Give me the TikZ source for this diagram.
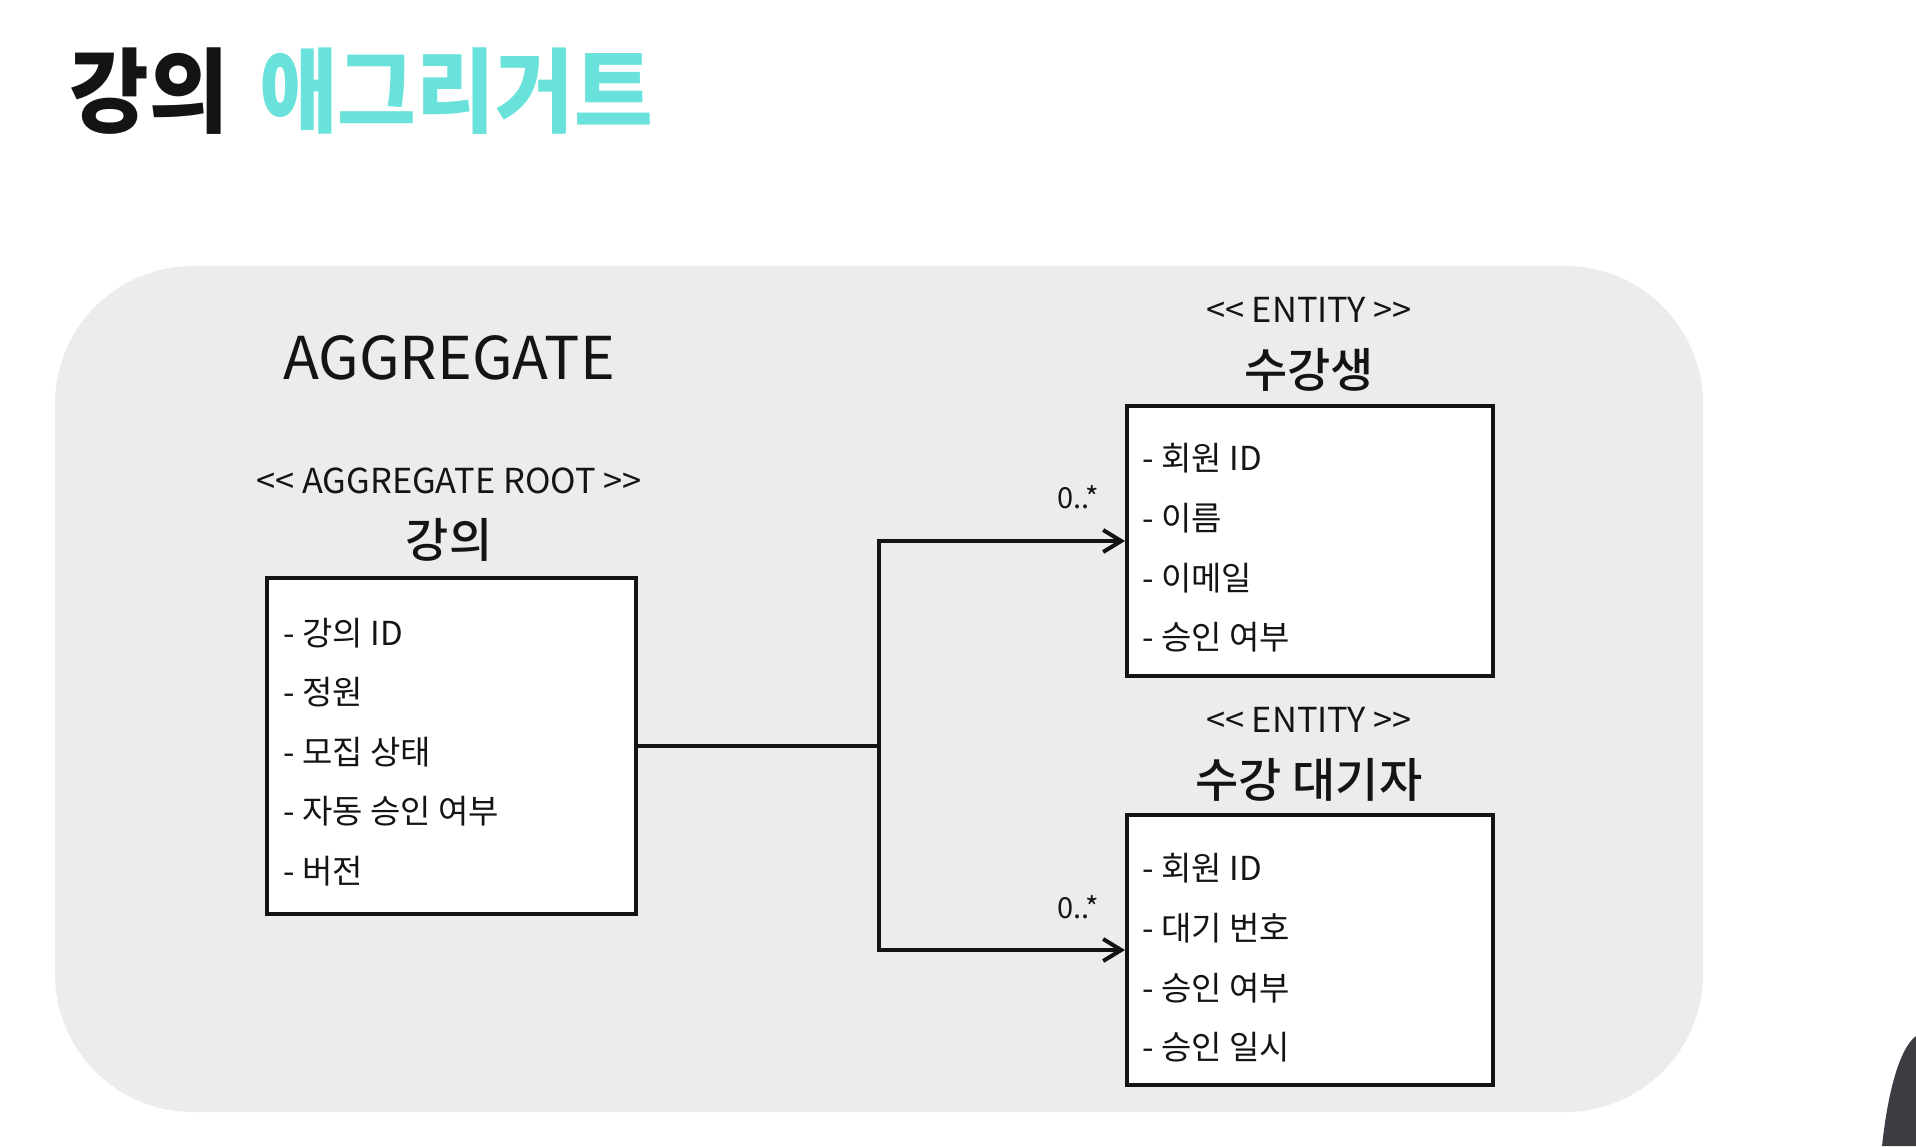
\documentclass[tikz,border=0pt]{standalone}
\usepackage{fontspec}
\usetikzlibrary{arrows.meta}
\newfontfamily\krfont{Noto Sans CJK KR}
\newfontfamily\krmed{Noto Sans CJK KR}[UprightFont=* Medium]
\newfontfamily\krblack{Noto Sans CJK KR}[UprightFont=* Black]
\definecolor{bgpanel}{HTML}{ECEBEE}
\definecolor{ink}{HTML}{141414}
\definecolor{teal}{HTML}{68E2DA}
\definecolor{person}{HTML}{3C3C42}
\tikzset{
  titletxt/.style={inner sep=0, font=\krblack\fontsize{46}{50}\selectfont},
  boxed/.style={draw=ink, line width=2pt, fill=white, inner sep=0, minimum width=#1},
  item/.style={anchor=base west, inner sep=0, text=ink, font=\krfont\fontsize{16.5}{20}\selectfont},
  stereo/.style={inner sep=0, text=ink, font=\krfont\fontsize{17.2}{20}\selectfont},
  heading/.style={inner sep=0, text=ink, font=\krmed\fontsize{23.5}{28}\selectfont},
  mult/.style={inner sep=0, text=ink, font=\krfont\fontsize{14.5}{17}\selectfont},
  conn/.style={draw=ink, line width=2pt},
  arr/.style={conn, -{Straight Barb[length=9pt,width=11pt]}}
}
\begin{document}
\begin{tikzpicture}[x=0.5pt,y=-0.5pt]
\useasboundingbox (0,0) rectangle (1916,1146);
\fill[white] (0,0) rectangle (1916,1146);
% title
\node[titletxt, text=ink] (t1) at (149,91.5) {\scalebox{0.94}[1]{강의}};
\node[titletxt, text=teal] (t2) at (456,91.5) {\scalebox{0.93}[1]{애그리거트}};
% panel
\fill[bgpanel, rounded corners=69pt] (55,266) rectangle (1703,1112);
% aggregate label
\node[inner sep=0, text=ink, font=\krfont\fontsize{29.5}{34}\selectfont] (agg) at (449,358) {AGGREGATE};
% root
\node[stereo] (rs) at (449,481) {<< AGGREGATE ROOT >>};
\node[heading] (rh) at (449,540) {강의};
\node[boxed=184.5pt, minimum height=168.25pt] (root) at (451,745.75) {};
\node[item] (r1) at (283,645) {- 강의 ID};
\node[item] (r2) at (283,704.5) {- 정원};
\node[item] (r3) at (283,764) {- 모집 상태};
\node[item] (r4) at (283,823.5) {- 자동 승인 여부};
\node[item] (r5) at (283,883) {- 버전};
% entity 1
\node[stereo] (es1) at (1309,310) {<< ENTITY >>};
\node[heading] (eh1) at (1309,370) {수강생};
\node[boxed=183pt, minimum height=135pt] (e1) at (1310,541) {};
\node[item] (a1) at (1142,470) {- 회원 ID};
\node[item] (a2) at (1142,530) {- 이름};
\node[item] (a3) at (1142,590) {- 이메일};
\node[item] (a4) at (1142,649) {- 승인 여부};
% entity 2
\node[stereo] (es2) at (1309,720) {<< ENTITY >>};
\node[heading] (eh2) at (1309,780) {수강 대기자};
\node[boxed=183pt, minimum height=135pt] (e2) at (1310,950) {};
\node[item] (b1) at (1142,880) {- 회원 ID};
\node[item] (b2) at (1142,940) {- 대기 번호};
\node[item] (b3) at (1142,1000) {- 승인 여부};
\node[item] (b4) at (1142,1059) {- 승인 일시};
% connectors
\coordinate (jm) at (879,745.75);
\draw[conn] (root.east) -- (jm);
\draw[arr] (jm) |- (e1.west);
\draw[arr] (jm) |- (e2.west);
\node[mult] (m1) at (1078,497) {0..*};
\node[mult] (m2) at (1078,907) {0..*};
% presenter silhouette
\fill[person] (1916,1036) .. controls (1900,1048) and (1888,1090) .. (1882,1146) -- (1916,1146) -- cycle;
\end{tikzpicture}
\end{document}
